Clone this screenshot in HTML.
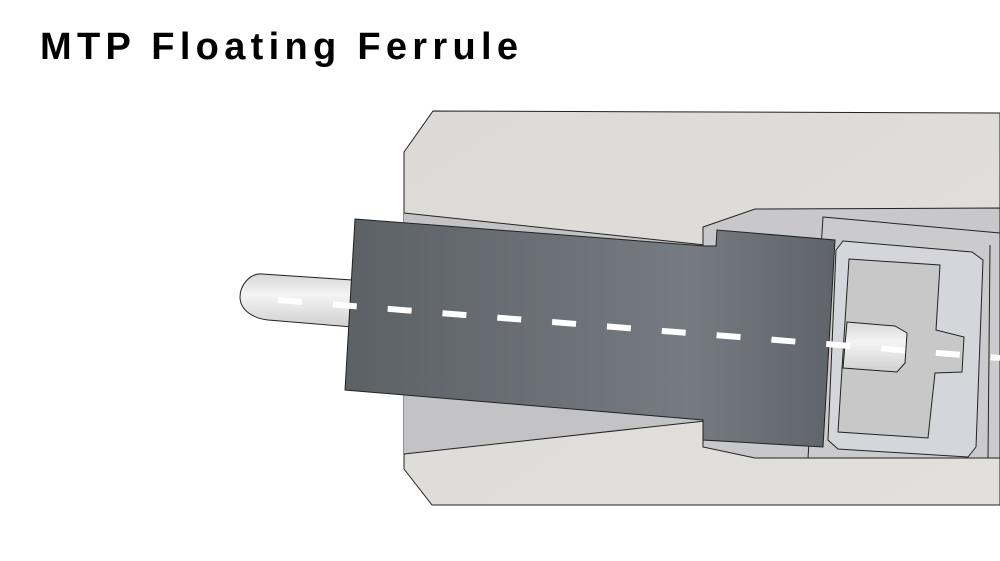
<!DOCTYPE html>
<html><head><meta charset="utf-8"><style>html,body{margin:0;padding:0;background:#fff}svg{display:block}</style></head>
<body>
<svg width="1000" height="561" viewBox="0 0 1000 561" xmlns="http://www.w3.org/2000/svg">
<defs>
<linearGradient id="body" x1="0" y1="0" x2="1" y2="1"><stop offset="0" stop-color="#dcdad6"/><stop offset="1" stop-color="#e2e0dc"/></linearGradient>
<linearGradient id="fer" x1="0" y1="0" x2="1" y2="0"><stop offset="0" stop-color="#5c6166"/><stop offset="0.7" stop-color="#757b81"/><stop offset="1" stop-color="#5f646a"/></linearGradient>
<linearGradient id="pin" x1="0" y1="0" x2="0" y2="1"><stop offset="0" stop-color="#d8d8d8"/><stop offset="0.4" stop-color="#f4f4f4"/><stop offset="1" stop-color="#d0d0d0"/></linearGradient>
</defs>
<text x="40" y="59" font-family="Liberation Sans, sans-serif" font-weight="bold" font-size="38" textLength="478" lengthAdjust="spacing" fill="#000">MTP Floating Ferrule</text>
<!-- housing -->
<polygon points="433,111 1000,113 1000,505 432,505 404,469 404,152" fill="url(#body)" stroke="#222" stroke-width="1"/>
<polygon points="404,213 705,245 705,421 404,454" fill="#c3c3c6"/>
<line x1="404" y1="213" x2="705" y2="245" stroke="#222"/>
<line x1="404" y1="454" x2="705" y2="421" stroke="#222"/>
<!-- inner housing -->
<polygon points="703,227 755,209 1000,208 1000,458 755,458 703,447" fill="#c8c8cb" stroke="#222"/>
<polygon points="823,217 1000,233 1000,458 808,458" fill="#cbcbce" stroke="#222"/>
<line x1="990" y1="245" x2="988" y2="458" stroke="#222"/>
<polygon points="843,241 972,252 983,260 976,447 968,457 838,449 828,440 836,250" fill="#d4d6dc" stroke="#222"/>
<polygon points="849,259 940,265 936,330 964,337 962,372 935,373 928,438 838,432" fill="#c8c8c8" stroke="#222"/>
<polygon points="847,322 895,326 907,333 905,363 897,372 843,368" fill="url(#pin)" stroke="#222"/>
<!-- left pin -->
<path d="M262,274 L352,280 L352,327 L268,320 C250,318 240,308 240,297 C240,285 250,273 262,274 Z" fill="url(#pin)" stroke="#222"/>
<!-- ferrule -->
<polygon points="355,219 705,246 716,246 717,230 835,240 823,447 703,440 703,420 345,390" fill="url(#fer)" stroke="#222"/>
<!-- fiber dashes -->
<line x1="278" y1="300" x2="1000" y2="358" stroke="#fff" stroke-width="6" stroke-dasharray="24 31"/>
</svg>
</body></html>
